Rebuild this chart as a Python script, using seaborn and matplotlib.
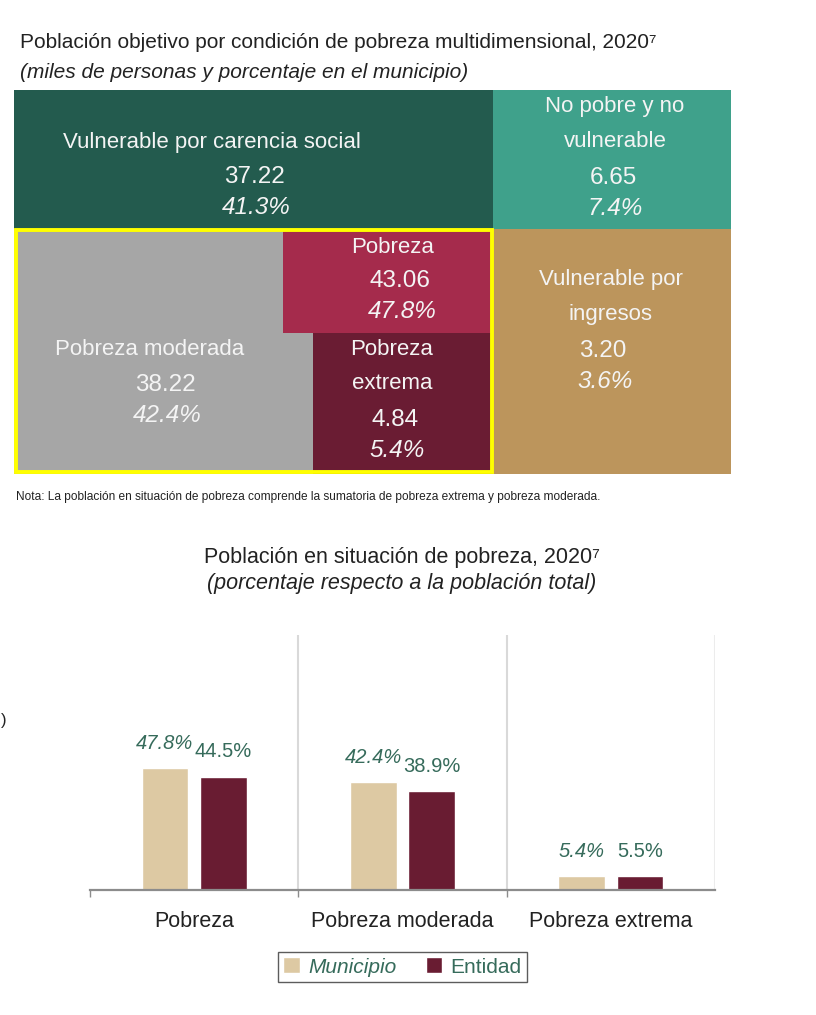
import matplotlib
matplotlib.use("Agg")
import matplotlib.pyplot as plt
import matplotlib.patches as mpatches
import pandas as pd
import seaborn as sns

# ── Data ──────────────────────────────────────────────────────────────────────
cell_names = [
    "Vulnerable por carencia social",
    "No pobre y no\nvulnerable",
    "Pobreza",
    "Vulnerable por\ningresos",
    "Pobreza moderada",
    "Pobreza\nextrema",
]
cell_miles = [37.22, 6.65, 43.06, 3.20, 38.22, 4.84]
cell_pct = [41.3, 7.4, 47.8, 3.6, 42.4, 5.4]

categorias = ["Pobreza", "Pobreza moderada", "Pobreza extrema"]
municipio = [47.8, 42.4, 5.4]
entidad = [44.5, 38.9, 5.5]

# ── Layout / style ────────────────────────────────────────────────────────────
W, H = 816, 1015
FONT = ["Liberation Sans", "DejaVu Sans"]
WHITE = "#F4F4F4"
GREEN_TXT = "#366B5B"

# cell rectangles in pixels inside the top panel (x, y, w, h)
cell_rects = [
    (0, 0, 479, 139),      # vulnerable carencia
    (479, 0, 238, 139),    # no pobre
    (269, 139, 210, 104),  # pobreza
    (479, 139, 238, 245),  # vulnerable ingresos
    (0, 139, 479, 245),    # pobreza moderada (under the others)
    (299, 243, 180, 141),  # pobreza extrema
]
cell_colors = ["#235B4E", "#3FA18B", "#A52B4C", "#BC955C", "#A6A6A6", "#6A1C33"]
draw_order = [0, 1, 3, 4, 2, 5]
# text anchors: (x, y of first name line, line step, x of numbers, y of number)
text_pos = [
    (212 - 14, 53, 35, 240, 87),
    (601, 17, 35, 599, 88),
    (379, 158, 35, 386, 191),
    (597, 190, 35, 589, 261),
    (136, 260, 35, 151, 295),
    (378, 260, 34, 381, 330),
]

sns.set_theme(style="white")
plt.rcParams["font.family"] = FONT

fig = plt.figure(figsize=(W / 100, H / 100), dpi=100)


def px_axes(x0, y0, x1, y1):
    return fig.add_axes([x0 / W, 1 - y1 / H, (x1 - x0) / W, (y1 - y0) / H])


# ── Top panel: condition boxes ────────────────────────────────────────────────
fig.text(20 / W, 1 - 43 / H, "Población objetivo por condición de pobreza multidimensional, 2020⁷",
         fontsize=15, color="#222222", va="center", ha="left")
fig.text(20 / W, 1 - 73 / H, "(miles de personas y porcentaje en el municipio)",
         fontsize=15, color="#222222", va="center", ha="left", style="italic")

ax1 = px_axes(14, 90, 731, 474)
ax1.set_xlim(0, 717)
ax1.set_ylim(384, 0)
ax1.axis("off")

for i in draw_order:
    x, y, w, h = cell_rects[i]
    ax1.add_patch(mpatches.Rectangle((x, y), w, h, facecolor=cell_colors[i],
                                     edgecolor="none", zorder=1))
ax1.add_patch(mpatches.Rectangle((1.5, 140.5), 476, 242, facecolor="none",
                                 edgecolor="#FFFF00", lw=2.8, zorder=3))

for i, name in enumerate(cell_names):
    xn, yn, step, xv, yv = text_pos[i]
    for k, line in enumerate(name.split("\n")):
        ax1.text(xn, yn + k * step, line, color=WHITE, fontsize=16,
                 ha="center", va="center", zorder=4)
    ax1.text(xv, yv, f"{cell_miles[i]:.2f}", color=WHITE, fontsize=17.5,
             ha="center", va="center", zorder=4)
    ax1.text(xv + 2, yv + 31, f"{cell_pct[i]:.1f}%", color=WHITE, fontsize=17.5,
             ha="center", va="center", style="italic", zorder=4)

fig.text(16 / W, 1 - 497 / H,
         "Nota: La población en situación de pobreza comprende la sumatoria de pobreza extrema y pobreza moderada.",
         fontsize=8.6, color="#222222", va="center", ha="left")

# ── Bottom panel: bar chart ───────────────────────────────────────────────────
fig.text(402 / W, 1 - 557 / H, "Población en situación de pobreza, 2020⁷",
         fontsize=15.5, color="#222222", ha="center", va="center")
fig.text(402 / W, 1 - 583 / H, "(porcentaje respecto a la población total)",
         fontsize=15.5, color="#222222", ha="center", va="center", style="italic")
fig.text(0.5 / W, 1 - 720 / H, ")", fontsize=12, color="#222222", ha="left", va="center")

df = pd.DataFrame({
    "categoria": categorias * 2,
    "serie": ["Municipio"] * 3 + ["Entidad"] * 3,
    "valor": municipio + entidad,
})

ax2 = px_axes(90, 635, 715, 890)
sns.barplot(data=df, x="categoria", y="valor", hue="serie",
            hue_order=["Municipio", "Entidad"],
            palette={"Municipio": "#DDC9A3", "Entidad": "#691C32"},
            width=0.56, gap=0.2, saturation=1, ax=ax2)
ax2.set_xlim(-0.5, 2.5)
ax2.set_ylim(0, 100)
ax2.set_xlabel("")
ax2.set_ylabel("")
ax2.set_yticks([])
for s in ["top", "left", "right"]:
    ax2.spines[s].set_visible(False)
ax2.spines["bottom"].set_color("#8C8C8C")
ax2.spines["bottom"].set_linewidth(1.6)
for xv in [0.5, 1.5, 2.5]:
    ax2.axvline(xv, color="#D9D9D9" if xv < 2 else "#ECECEC", lw=1.5, zorder=0)
ax2.set_xticks([-0.5, 0.5, 1.5], minor=True)
ax2.tick_params(axis="x", which="minor", direction="out", length=5, width=1,
                color="#8C8C8C", bottom=True)
ax2.tick_params(axis="x", which="major", length=0, pad=15, labelsize=15.5,
                labelcolor="#222222")

styles = ["italic", "normal"]
for cont, st in zip(ax2.containers, styles):
    ax2.bar_label(cont, labels=[f"{b.get_height():.1f}%" for b in cont],
                  padding=11, fontsize=14.5, color=GREEN_TXT, style=st)

leg = ax2.legend(loc="center", bbox_to_anchor=(0.5, -0.302), ncol=2,
                 frameon=True, fancybox=False, edgecolor="#333333",
                 handlelength=0.8, handleheight=0.8, handletextpad=0.4,
                 columnspacing=1.4, fontsize=15, borderpad=0.25)
leg.get_frame().set_linewidth(1.0)
for t, st in zip(leg.get_texts(), styles):
    t.set_color(GREEN_TXT)
    t.set_style(st)

fig.savefig("out.png", dpi=100)
